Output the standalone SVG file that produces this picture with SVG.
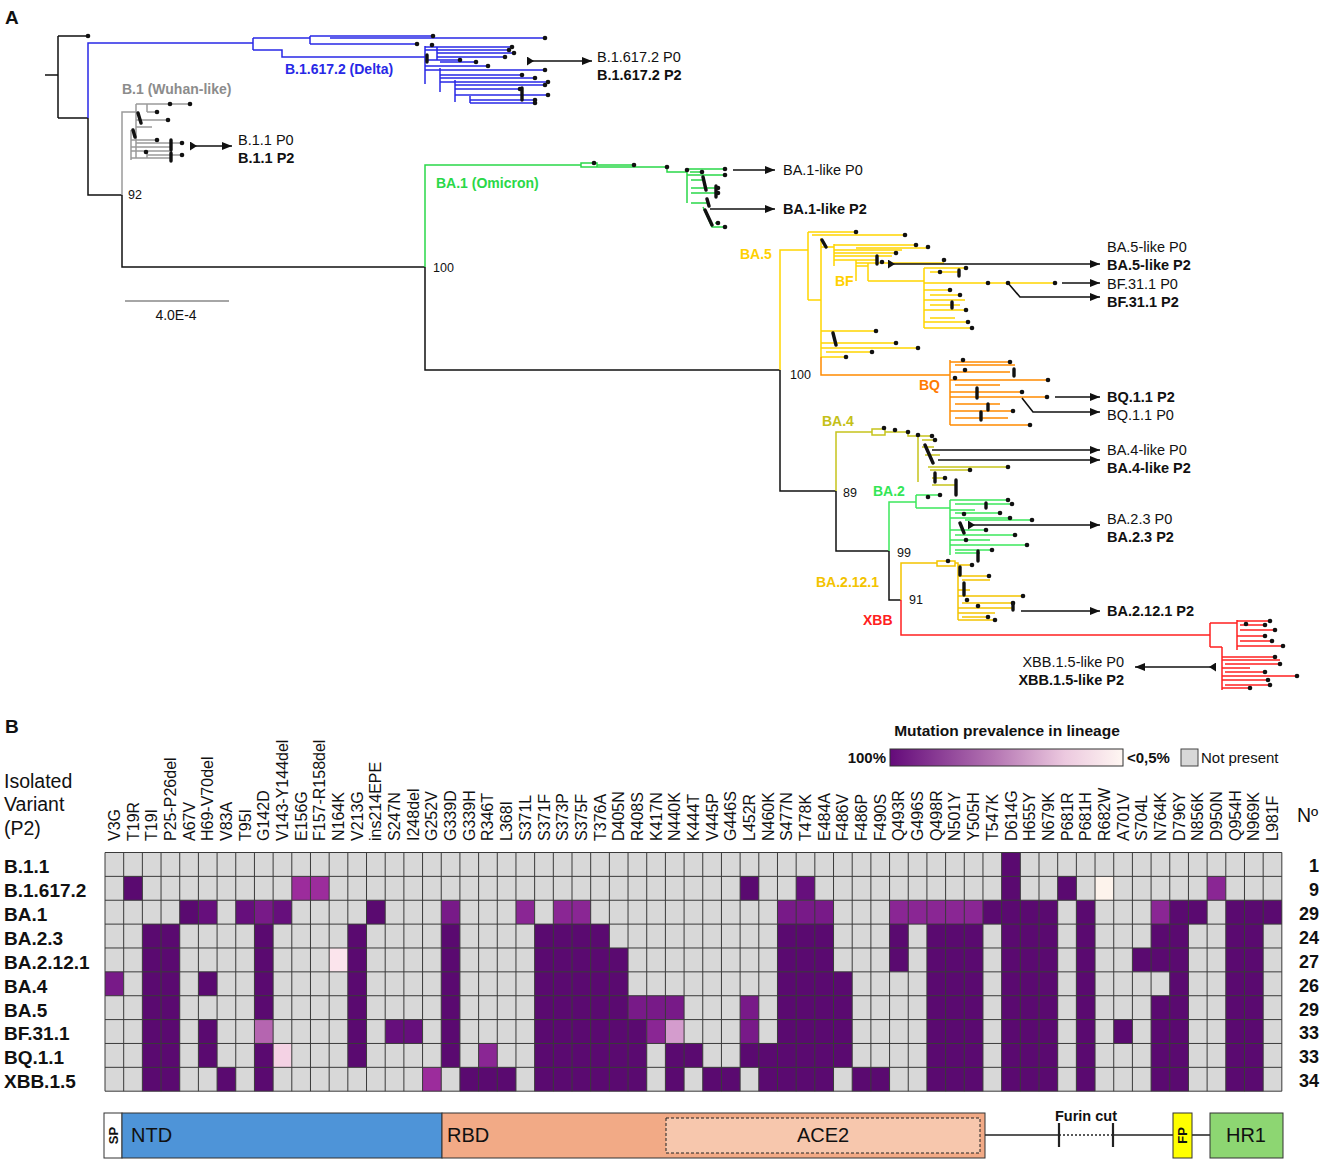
<svg xmlns="http://www.w3.org/2000/svg" width="1325" height="1164" viewBox="0 0 1325 1164">
<style>
text{font-family:"Liberation Sans",Arial,sans-serif;fill:#111}
.tl{font-size:14.5px}
.b{font-weight:bold}
.cl{font-size:14px;font-weight:bold}
.bs{font-size:12.5px}
.hd text{font-size:16px;dominant-baseline:central}
.rl text{font-size:19px;font-weight:bold;dominant-baseline:central}
.cn text{font-size:18px;font-weight:bold;dominant-baseline:central}
.br{fill:none;stroke-width:1.5}
.dt circle{fill:#111}
.th{fill:none;stroke:#111;stroke-width:3.4;stroke-linecap:round}
.arr{fill:none;stroke:#111;stroke-width:1.6;marker-end:url(#ah)}
.tail{marker-start:url(#tl)}
.d1{fill:#5a0a70}.d2{fill:#660f7c}.m1{fill:#781a88}.m2{fill:#8a2694}.mg{fill:#9c2c9c}
.l1{fill:#b565b0}.l2{fill:#d49ccd}.l3{fill:#f4d2e4}.l4{fill:#fbe4ec}.l5{fill:#fdf3ec}
</style>
<defs>
<marker id="ah" markerUnits="userSpaceOnUse" markerWidth="10" markerHeight="8" refX="10" refY="4" orient="auto"><path d="M0 0L10 4L0 8z" fill="#111"/></marker>
<marker id="tl" markerUnits="userSpaceOnUse" markerWidth="8" markerHeight="9" refX="0" refY="4.5" orient="auto"><path d="M0 0L7 4.5L0 9z" fill="#111"/></marker>
<linearGradient id="grad" x1="0" x2="1" y1="0" y2="0"><stop offset="0" stop-color="#640a7a"/><stop offset="0.45" stop-color="#b576b3"/><stop offset="0.75" stop-color="#ecc9df"/><stop offset="1" stop-color="#fff7f2"/></linearGradient>
</defs>
<rect width="1325" height="1164" fill="#fff"/>
<text x="5" y="24" style="font-size:19px;font-weight:bold">A</text>
<text x="5" y="733" style="font-size:19px;font-weight:bold">B</text>

<!-- TREE -->
<g id="backbone" class="br" stroke="#111">
<path d="M45 75H58M58 36V118M58 36H88M58 118H88M88 118V195H122M122 195V267H425M425 267V370H780M780 370V491H836M836 491V551H889M889 551V600H901"/>
</g>
<g id="clade-delta" class="br" stroke="#2828e6">
<path d="M88 118V43H253M253 38V50M253 38H310M310 36V44M310 36H433M330 38H545M310 44H417M253 50H282V57H425M425 46V84M425 47H512M425 50H509M437 47V60M437 53H514M437 57H505M425 60H460M440 62H476M425 66H488M425 70H545M440 68V92M440 75H522M440 78H535M440 82H548M455 80V102M455 85H545M455 89H520M455 95H548M470 96V103M470 100H535M470 103H535"/>
</g>
<g id="clade-b1" class="br" stroke="#9b9b9b">
<path d="M122 195V112H136M136 104V158M136 104H147V112M147 104H190M147 112H157M136 120H168M136 127H152M131 130V160M131 140H157M136 143H182M131 147H170M131 151H170M147 151V158M147 155H182M131 158H170"/>
</g>
<g id="clade-ba1" class="br" stroke="#2ad848">
<path d="M425 267V165H581M581 163H597V167H581ZM597 165H634M597 167H667V172H687M687 169V203M687 169H725M687 175H725M690 172H702M691 180H705M691 188H718M691 193H718M691 203H707M703 207L712 227H725M715 223H717"/>
</g>
<g id="clade-ba5" class="br" stroke="#ffd500">
<path d="M780 370V250H808M808 232V300M808 232H856M812 235H905M808 300H821M821 238V357M821 247H834M834 244V266M834 245H916M856 248H928M834 250H902M834 253H896M834 256H892M834 260H878M856 263H944M856 260V281M856 266H868M868 263V281M868 281H924M924 268V328M924 268H966M930 272H960M924 283H1055M924 290H948M930 295H960M924 300H965M930 305H960M924 310H966M930 318H955M924 322H968M924 328H972M821 331H876M821 343H896M821 348H918M826 352H872M821 357H846"/>
</g>
<g id="clade-bq" class="br" stroke="#ff8a00">
<path d="M821 357V375H950M950 360V425M950 362H1010M955 365H1015M950 372H1010M950 380H1048M955 385H1000M950 392H1022M950 397H1047M955 404H1000M950 411H1013M955 418H1008M950 425H1030"/>
</g>
<g id="clade-ba4" class="br" stroke="#c6c41c">
<path d="M836 491V432H872M872 429H885V435H872ZM885 432H908V436H918M918 434V482M918 436H932M922 440H935M922 447H934M925 455H940M928 467H1008M930 470H970M932 478H945M932 485H957"/>
</g>
<g id="clade-ba2" class="br" stroke="#3de85c">
<path d="M889 551V502H916M916 495V508M916 495H940M916 508H950M950 500V555M950 500H1008M955 504H1012M950 510H975M955 513H1000M950 518H1010M965 520H1032M950 530H986M955 535H1015M950 540H990M950 545H1027M955 550H992M955 553H980"/>
</g>
<g id="clade-ba2121" class="br" stroke="#f3c300">
<path d="M901 600V563H937M937 561H955V566H937ZM955 563H958V620M958 565H972M958 576H989M962 580H990M958 590H970M958 596H1023M962 603H1013M958 608H1013M958 613H995M962 617H988M958 620H995"/>
</g>
<g id="clade-xbb" class="br" stroke="#ff2020">
<path d="M901 600V635H1210M1210 623V647M1210 623H1237M1237 620V650M1237 621H1270M1240 625H1265M1240 630H1275M1237 636H1265M1240 641H1272M1237 646H1283M1210 647H1222M1222 647V690M1222 657H1275M1222 660H1280M1225 664H1280M1222 668H1250M1225 672H1265M1222 676H1297M1222 680H1268M1225 685H1270M1222 688H1250"/>
</g>
<g id="tips" class="dt">
<circle cx="88" cy="36" r="2.3"/>
<circle cx="433" cy="36" r="2.3"/><circle cx="545" cy="38" r="2.3"/><circle cx="417" cy="44" r="2.3"/><circle cx="512" cy="47" r="2.3"/><circle cx="509" cy="50" r="2.3"/><circle cx="514" cy="53" r="2.3"/><circle cx="505" cy="57" r="2.3"/><circle cx="460" cy="60" r="2.3"/><circle cx="476" cy="62" r="2.3"/><circle cx="488" cy="66" r="2.3"/><circle cx="545" cy="70" r="2.3"/><circle cx="522" cy="75" r="2.3"/><circle cx="535" cy="78" r="2.3"/><circle cx="548" cy="82" r="2.3"/><circle cx="545" cy="85" r="2.3"/><circle cx="520" cy="89" r="2.3"/><circle cx="548" cy="95" r="2.3"/><circle cx="535" cy="100" r="2.3"/><circle cx="535" cy="103" r="2.3"/><circle cx="432" cy="45" r="2.3"/>
<circle cx="170" cy="104" r="2.3"/><circle cx="190" cy="104" r="2.3"/><circle cx="157" cy="112" r="2.3"/><circle cx="168" cy="120" r="2.3"/><circle cx="157" cy="140" r="2.3"/><circle cx="182" cy="143" r="2.3"/><circle cx="182" cy="155" r="2.3"/><circle cx="146" cy="152" r="2.3"/>
<circle cx="594" cy="163" r="2.3"/><circle cx="634" cy="165" r="2.3"/><circle cx="667" cy="167" r="2.3"/><circle cx="725" cy="169" r="2.3"/><circle cx="725" cy="175" r="2.3"/><circle cx="702" cy="172" r="2.3"/><circle cx="718" cy="188" r="2.3"/><circle cx="718" cy="193" r="2.3"/><circle cx="725" cy="227" r="2.3"/><circle cx="718" cy="223" r="2.3"/><circle cx="687" cy="170" r="2.3"/>
<circle cx="856" cy="232" r="2.3"/><circle cx="905" cy="235" r="2.3"/><circle cx="916" cy="245" r="2.3"/><circle cx="928" cy="247" r="2.3"/><circle cx="896" cy="253" r="2.3"/><circle cx="944" cy="260" r="2.3"/><circle cx="882" cy="262" r="2.3"/><circle cx="966" cy="268" r="2.3"/><circle cx="988" cy="283" r="2.3"/><circle cx="1008" cy="283" r="2.3"/><circle cx="1055" cy="283" r="2.3"/><circle cx="960" cy="295" r="2.3"/><circle cx="966" cy="310" r="2.3"/><circle cx="968" cy="322" r="2.3"/><circle cx="972" cy="328" r="2.3"/><circle cx="876" cy="331" r="2.3"/><circle cx="896" cy="343" r="2.3"/><circle cx="918" cy="348" r="2.3"/><circle cx="872" cy="352" r="2.3"/><circle cx="846" cy="357" r="2.3"/><circle cx="940" cy="272" r="2.3"/><circle cx="950" cy="290" r="2.3"/>
<circle cx="1010" cy="362" r="2.3"/><circle cx="1048" cy="380" r="2.3"/><circle cx="1022" cy="392" r="2.3"/><circle cx="1047" cy="397" r="2.3"/><circle cx="1013" cy="411" r="2.3"/><circle cx="1030" cy="425" r="2.3"/><circle cx="965" cy="370" r="2.3"/><circle cx="955" cy="378" r="2.3"/><circle cx="963" cy="360" r="2.3"/>
<circle cx="884" cy="428" r="2.3"/><circle cx="895" cy="430" r="2.3"/><circle cx="908" cy="432" r="2.3"/><circle cx="918" cy="435" r="2.3"/><circle cx="932" cy="436" r="2.3"/><circle cx="935" cy="440" r="2.3"/><circle cx="1008" cy="467" r="2.3"/><circle cx="970" cy="470" r="2.3"/><circle cx="945" cy="478" r="2.3"/>
<circle cx="928" cy="497" r="2.3"/><circle cx="940" cy="495" r="2.3"/><circle cx="1008" cy="500" r="2.3"/><circle cx="1012" cy="504" r="2.3"/><circle cx="1000" cy="513" r="2.3"/><circle cx="1010" cy="518" r="2.3"/><circle cx="1032" cy="520" r="2.3"/><circle cx="986" cy="530" r="2.3"/><circle cx="1015" cy="535" r="2.3"/><circle cx="1027" cy="545" r="2.3"/><circle cx="992" cy="550" r="2.3"/><circle cx="964" cy="514" r="2.3"/><circle cx="966" cy="540" r="2.3"/>
<circle cx="948" cy="561" r="2.3"/><circle cx="972" cy="565" r="2.3"/><circle cx="989" cy="576" r="2.3"/><circle cx="1023" cy="596" r="2.3"/><circle cx="1013" cy="603" r="2.3"/><circle cx="988" cy="617" r="2.3"/><circle cx="995" cy="620" r="2.3"/><circle cx="967" cy="600" r="2.3"/><circle cx="978" cy="606" r="2.3"/>
<circle cx="1270" cy="621" r="2.3"/><circle cx="1265" cy="625" r="2.3"/><circle cx="1275" cy="630" r="2.3"/><circle cx="1265" cy="636" r="2.3"/><circle cx="1272" cy="641" r="2.3"/><circle cx="1283" cy="646" r="2.3"/><circle cx="1275" cy="657" r="2.3"/><circle cx="1280" cy="664" r="2.3"/><circle cx="1265" cy="672" r="2.3"/><circle cx="1297" cy="676" r="2.3"/><circle cx="1268" cy="680" r="2.3"/><circle cx="1270" cy="685" r="2.3"/><circle cx="1250" cy="688" r="2.3"/><circle cx="1246" cy="624" r="2.3"/>
</g>
<g id="tip-clusters">
<path class="th" d="M427 55V62M522 88V100M138 113L141 123M133 130L135 137M171 140V150M171 153V161M703 177L706 190M716 186V197M707 199L709 206M705 210L712 225M822 240L826 247M877 256V264M959 270V276M952 302V308M833 333L836 345M1014 369V376M988 404V410M981 412V420M977 388V398M925 445L933 463M935 473V482M956 480V495M960 523L964 533M978 551V561M986 503V508M960 567V575M964 583V595M1013 603V610"/>
</g>
<g id="scale">
<path d="M125 301H229" stroke="#888" stroke-width="1.5"/>
<text x="176" y="320" class="tl" text-anchor="middle" style="font-size:14px">4.0E-4</text>
</g>
<g id="clade-labels" class="cl">
<text x="285" y="74" style="fill:#2828e6">B.1.617.2 (Delta)</text>
<text x="122" y="94" style="fill:#8c8c8c">B.1 (Wuhan-like)</text>
<text x="436" y="188" style="fill:#2ad848">BA.1 (Omicron)</text>
<text x="740" y="259" style="fill:#ffd000">BA.5</text>
<text x="835" y="286" style="fill:#ffd000">BF</text>
<text x="919" y="390" style="fill:#ff7a00">BQ</text>
<text x="822" y="426" style="fill:#c4c018">BA.4</text>
<text x="873" y="496" style="fill:#33e655">BA.2</text>
<text x="816" y="587" style="fill:#f3c300">BA.2.12.1</text>
<text x="863" y="625" style="fill:#ff2020">XBB</text>
</g>
<g id="bootstrap" class="bs">
<text x="128" y="199">92</text>
<text x="433" y="272">100</text>
<text x="790" y="379">100</text>
<text x="843" y="497">89</text>
<text x="897" y="557">99</text>
<text x="909" y="604">91</text>
</g>
<g id="connectors">
<path class="arr tail" d="M527 61H592"/>
<path class="arr tail" d="M190 146H232"/>
<path class="arr" d="M733 170H775"/>
<path class="arr" d="M710 209H775"/>
<path class="arr tail" d="M888 264H1100"/>
<path class="arr" d="M1062 283H1100"/>
<path class="arr" d="M1008 283L1020 297H1100"/>
<path class="arr" d="M1055 397H1100"/>
<path class="arr" d="M1022 398L1033 412H1100"/>
<path class="arr" d="M932 450H1100"/>
<path class="arr" d="M938 460H1100"/>
<path class="arr tail" d="M968 525H1100"/>
<path class="arr" d="M1021 611H1100"/>
<path class="arr tail" d="M1216 667H1135"/>
</g>
<g id="sample-labels" class="tl">
<text x="597" y="62">B.1.617.2 P0</text>
<text x="597" y="80" class="b">B.1.617.2 P2</text>
<text x="238" y="145">B.1.1 P0</text>
<text x="238" y="163" class="b">B.1.1 P2</text>
<text x="783" y="175">BA.1-like P0</text>
<text x="783" y="214" class="b">BA.1-like P2</text>
<text x="1107" y="252">BA.5-like P0</text>
<text x="1107" y="270" class="b">BA.5-like P2</text>
<text x="1107" y="289">BF.31.1 P0</text>
<text x="1107" y="307" class="b">BF.31.1 P2</text>
<text x="1107" y="402" class="b">BQ.1.1 P2</text>
<text x="1107" y="420">BQ.1.1 P0</text>
<text x="1107" y="455">BA.4-like P0</text>
<text x="1107" y="473" class="b">BA.4-like P2</text>
<text x="1107" y="524">BA.2.3 P0</text>
<text x="1107" y="542" class="b">BA.2.3 P2</text>
<text x="1107" y="616" class="b">BA.2.12.1 P2</text>
<text x="1124" y="667" text-anchor="end">XBB.1.5-like P0</text>
<text x="1124" y="685" text-anchor="end" class="b">XBB.1.5-like P2</text>
</g>

<!-- HEATMAP -->
<g id="legend">
<text x="1007" y="736" text-anchor="middle" style="font-size:15.5px;font-weight:bold">Mutation prevalence in lineage</text>
<text x="886" y="763" text-anchor="end" style="font-size:15px;font-weight:bold">100%</text>
<rect x="890" y="749" width="233" height="17" fill="url(#grad)" stroke="#333"/>
<text x="1127" y="763" style="font-size:15px;font-weight:bold">&lt;0,5%</text>
<rect x="1181" y="749" width="17" height="17" fill="#d8d8d8" stroke="#444"/>
<text x="1201" y="763" style="font-size:15px">Not present</text>
</g>
<g id="row-header" style="font-size:19.5px">
<text x="4" y="788">Isolated</text>
<text x="4" y="811">Variant</text>
<text x="4" y="835">(P2)</text>
<text x="1297" y="822">Nº</text>
</g>
<g id="mutation-labels" class="hd">
<text transform="translate(114.3 841) rotate(-90)">V3G</text>
<text transform="translate(133.0 841) rotate(-90)">T19R</text>
<text transform="translate(151.7 841) rotate(-90)">T19I</text>
<text transform="translate(170.4 841) rotate(-90)">P25-P26del</text>
<text transform="translate(189.0 841) rotate(-90)">A67V</text>
<text transform="translate(207.7 841) rotate(-90)">H69-V70del</text>
<text transform="translate(226.4 841) rotate(-90)">V83A</text>
<text transform="translate(245.1 841) rotate(-90)">T95I</text>
<text transform="translate(263.8 841) rotate(-90)">G142D</text>
<text transform="translate(282.5 841) rotate(-90)">V143-Y144del</text>
<text transform="translate(301.1 841) rotate(-90)">E156G</text>
<text transform="translate(319.8 841) rotate(-90)">F157-R158del</text>
<text transform="translate(338.5 841) rotate(-90)">N164K</text>
<text transform="translate(357.2 841) rotate(-90)">V213G</text>
<text transform="translate(375.9 841) rotate(-90)">ins214EPE</text>
<text transform="translate(394.5 841) rotate(-90)">S247N</text>
<text transform="translate(413.2 841) rotate(-90)">I248del</text>
<text transform="translate(431.9 841) rotate(-90)">G252V</text>
<text transform="translate(450.6 841) rotate(-90)">G339D</text>
<text transform="translate(469.3 841) rotate(-90)">G339H</text>
<text transform="translate(487.9 841) rotate(-90)">R346T</text>
<text transform="translate(506.6 841) rotate(-90)">L368I</text>
<text transform="translate(525.3 841) rotate(-90)">S371L</text>
<text transform="translate(544.0 841) rotate(-90)">S371F</text>
<text transform="translate(562.7 841) rotate(-90)">S373P</text>
<text transform="translate(581.3 841) rotate(-90)">S375F</text>
<text transform="translate(600.0 841) rotate(-90)">T376A</text>
<text transform="translate(618.7 841) rotate(-90)">D405N</text>
<text transform="translate(637.4 841) rotate(-90)">R408S</text>
<text transform="translate(656.1 841) rotate(-90)">K417N</text>
<text transform="translate(674.7 841) rotate(-90)">N440K</text>
<text transform="translate(693.4 841) rotate(-90)">K444T</text>
<text transform="translate(712.1 841) rotate(-90)">V445P</text>
<text transform="translate(730.8 841) rotate(-90)">G446S</text>
<text transform="translate(749.5 841) rotate(-90)">L452R</text>
<text transform="translate(768.1 841) rotate(-90)">N460K</text>
<text transform="translate(786.8 841) rotate(-90)">S477N</text>
<text transform="translate(805.5 841) rotate(-90)">T478K</text>
<text transform="translate(824.2 841) rotate(-90)">E484A</text>
<text transform="translate(842.9 841) rotate(-90)">F486V</text>
<text transform="translate(861.5 841) rotate(-90)">F486P</text>
<text transform="translate(880.2 841) rotate(-90)">F490S</text>
<text transform="translate(898.9 841) rotate(-90)">Q493R</text>
<text transform="translate(917.6 841) rotate(-90)">G496S</text>
<text transform="translate(936.3 841) rotate(-90)">Q498R</text>
<text transform="translate(954.9 841) rotate(-90)">N501Y</text>
<text transform="translate(973.6 841) rotate(-90)">Y505H</text>
<text transform="translate(992.3 841) rotate(-90)">T547K</text>
<text transform="translate(1011.0 841) rotate(-90)">D614G</text>
<text transform="translate(1029.7 841) rotate(-90)">H655Y</text>
<text transform="translate(1048.3 841) rotate(-90)">N679K</text>
<text transform="translate(1067.0 841) rotate(-90)">P681R</text>
<text transform="translate(1085.7 841) rotate(-90)">P681H</text>
<text transform="translate(1104.4 841) rotate(-90)">R682W</text>
<text transform="translate(1123.1 841) rotate(-90)">A701V</text>
<text transform="translate(1141.7 841) rotate(-90)">S704L</text>
<text transform="translate(1160.4 841) rotate(-90)">N764K</text>
<text transform="translate(1179.1 841) rotate(-90)">D796Y</text>
<text transform="translate(1197.8 841) rotate(-90)">N856K</text>
<text transform="translate(1216.5 841) rotate(-90)">D950N</text>
<text transform="translate(1235.1 841) rotate(-90)">Q954H</text>
<text transform="translate(1253.8 841) rotate(-90)">N969K</text>
<text transform="translate(1272.5 841) rotate(-90)">L981F</text>
</g>
<g id="variant-labels" class="rl">
<text x="4" y="866">B.1.1</text>
<text x="4" y="890">B.1.617.2</text>
<text x="4" y="914">BA.1</text>
<text x="4" y="938">BA.2.3</text>
<text x="4" y="962">BA.2.12.1</text>
<text x="4" y="986">BA.4</text>
<text x="4" y="1010">BA.5</text>
<text x="4" y="1033">BF.31.1</text>
<text x="4" y="1057">BQ.1.1</text>
<text x="4" y="1081">XBB.1.5</text>
</g>
<g id="counts" class="cn" text-anchor="end">
<text x="1319" y="866">1</text>
<text x="1319" y="890">9</text>
<text x="1319" y="914">29</text>
<text x="1319" y="938">24</text>
<text x="1319" y="962">27</text>
<text x="1319" y="986">26</text>
<text x="1319" y="1010">29</text>
<text x="1319" y="1033">33</text>
<text x="1319" y="1057">33</text>
<text x="1319" y="1081">34</text>
</g>
<g id="heatmap" transform="translate(105 852.5) scale(18.68 23.87)">
<rect x="0" y="0" width="63" height="10" fill="#d8d8d8"/>
<path class="d1" d="M48 0h1v1h-1zM1 1h1v1h-1zM34 1h1v1h-1zM48 1h1v1h-1zM51 1h1v1h-1zM4 2h1v1h-1zM14 2h1v1h-1zM47 2h4v1h-4zM52 2h1v1h-1zM57 2h2v1h-2zM60 2h3v1h-3zM2 3h2v1h-2zM8 3h1v1h-1zM13 3h1v1h-1zM18 3h1v1h-1zM23 3h4v1h-4zM36 3h3v1h-3zM42 3h1v1h-1zM44 3h3v1h-3zM48 3h3v1h-3zM52 3h1v1h-1zM56 3h2v1h-2zM60 3h2v1h-2zM2 4h2v1h-2zM8 4h1v1h-1zM13 4h1v1h-1zM18 4h1v1h-1zM23 4h5v1h-5zM36 4h3v1h-3zM42 4h1v1h-1zM44 4h3v1h-3zM48 4h3v1h-3zM52 4h1v1h-1zM55 4h3v1h-3zM60 4h2v1h-2zM2 5h2v1h-2zM5 5h1v1h-1zM8 5h1v1h-1zM13 5h1v1h-1zM18 5h1v1h-1zM23 5h5v1h-5zM36 5h4v1h-4zM44 5h3v1h-3zM48 5h3v1h-3zM52 5h1v1h-1zM57 5h1v1h-1zM60 5h2v1h-2zM2 6h2v1h-2zM8 6h1v1h-1zM13 6h1v1h-1zM18 6h1v1h-1zM23 6h5v1h-5zM36 6h4v1h-4zM44 6h3v1h-3zM48 6h3v1h-3zM52 6h1v1h-1zM56 6h2v1h-2zM60 6h2v1h-2zM2 7h2v1h-2zM5 7h1v1h-1zM13 7h1v1h-1zM18 7h1v1h-1zM23 7h6v1h-6zM36 7h4v1h-4zM44 7h3v1h-3zM48 7h3v1h-3zM52 7h1v1h-1zM54 7h1v1h-1zM56 7h2v1h-2zM60 7h2v1h-2zM2 8h2v1h-2zM5 8h1v1h-1zM8 8h1v1h-1zM13 8h1v1h-1zM18 8h1v1h-1zM23 8h6v1h-6zM30 8h2v1h-2zM34 8h6v1h-6zM44 8h3v1h-3zM48 8h3v1h-3zM52 8h1v1h-1zM56 8h2v1h-2zM60 8h2v1h-2zM2 9h2v1h-2zM6 9h1v1h-1zM8 9h1v1h-1zM19 9h3v1h-3zM23 9h6v1h-6zM30 9h1v1h-1zM32 9h2v1h-2zM35 9h4v1h-4zM40 9h2v1h-2zM44 9h3v1h-3zM48 9h3v1h-3zM52 9h1v1h-1zM56 9h2v1h-2zM60 9h2v1h-2z"/>
<path class="d2" d="M37 1h1v1h-1zM5 2h1v1h-1zM7 2h1v1h-1zM9 2h1v1h-1zM15 7h2v1h-2z"/>
<path class="m1" d="M8 2h1v1h-1zM18 2h1v1h-1zM36 2h3v1h-3zM0 5h1v1h-1zM28 6h3v1h-3zM34 6h1v1h-1zM34 7h1v1h-1z"/>
<path class="m2" d="M59 1h1v1h-1zM22 2h1v1h-1zM24 2h2v1h-2zM42 2h5v1h-5zM56 2h1v1h-1zM29 7h1v1h-1zM20 8h1v1h-1z"/>
<path class="mg" d="M10 1h2v1h-2zM17 9h1v1h-1z"/>
<path class="l1" d="M8 7h1v1h-1z"/>
<path class="l2" d="M30 7h1v1h-1z"/>
<path class="l3" d="M9 8h1v1h-1z"/>
<path class="l4" d="M12 4h1v1h-1z"/>
<path class="l5" d="M53 1h1v1h-1z"/>
<path fill="none" stroke="#3a3a3a" stroke-width="1" vector-effect="non-scaling-stroke" d="M0 0V10M1 0V10M2 0V10M3 0V10M4 0V10M5 0V10M6 0V10M7 0V10M8 0V10M9 0V10M10 0V10M11 0V10M12 0V10M13 0V10M14 0V10M15 0V10M16 0V10M17 0V10M18 0V10M19 0V10M20 0V10M21 0V10M22 0V10M23 0V10M24 0V10M25 0V10M26 0V10M27 0V10M28 0V10M29 0V10M30 0V10M31 0V10M32 0V10M33 0V10M34 0V10M35 0V10M36 0V10M37 0V10M38 0V10M39 0V10M40 0V10M41 0V10M42 0V10M43 0V10M44 0V10M45 0V10M46 0V10M47 0V10M48 0V10M49 0V10M50 0V10M51 0V10M52 0V10M53 0V10M54 0V10M55 0V10M56 0V10M57 0V10M58 0V10M59 0V10M60 0V10M61 0V10M62 0V10M63 0V10M0 0H63M0 1H63M0 2H63M0 3H63M0 4H63M0 5H63M0 6H63M0 7H63M0 8H63M0 9H63M0 10H63"/>
</g>

<!-- DOMAIN BAR -->
<g id="domains">
<rect x="104" y="1113" width="18" height="45" fill="#fff" stroke="#333"/>
<text transform="translate(113.5 1135.5) rotate(-90)" text-anchor="middle" dominant-baseline="central" style="font-size:13px;font-weight:bold">SP</text>
<rect x="122" y="1113" width="320" height="45" fill="#4e94d8" stroke="#333"/>
<text x="131" y="1142" style="font-size:20px">NTD</text>
<rect x="442" y="1113" width="543" height="45" fill="#f2aa86" stroke="#333"/>
<text x="447" y="1142" style="font-size:20px">RBD</text>
<rect x="666" y="1118" width="314" height="35" fill="#f7c7ad" stroke="#222" stroke-dasharray="3 2"/>
<text x="823" y="1142" text-anchor="middle" style="font-size:20px">ACE2</text>
<path d="M985 1135H1059M1113 1135H1173M1192 1135H1210" stroke="#222" stroke-width="1.3" fill="none"/>
<path d="M1059 1135H1113" stroke="#222" stroke-width="1.3" stroke-dasharray="2 2" fill="none"/>
<path d="M1059 1123V1147M1113 1123V1147" stroke="#222" stroke-width="2.2" fill="none"/>
<text x="1086" y="1121" text-anchor="middle" style="font-size:14.5px;font-weight:bold">Furin cut</text>
<rect x="1173" y="1113" width="19" height="45" fill="#ffff00" stroke="#333"/>
<text transform="translate(1182.5 1135.5) rotate(-90)" text-anchor="middle" dominant-baseline="central" style="font-size:13px;font-weight:bold">FP</text>
<rect x="1210" y="1113" width="73" height="45" fill="#8dd672" stroke="#333"/>
<text x="1246" y="1142" text-anchor="middle" style="font-size:20px">HR1</text>
</g>
</svg>
